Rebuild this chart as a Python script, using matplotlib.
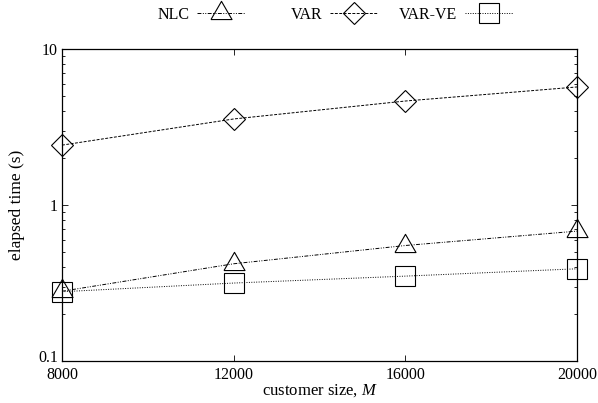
import numpy as np
import matplotlib
matplotlib.use('Agg')
import matplotlib.pyplot as plt
from matplotlib.ticker import FixedLocator, NullFormatter, FixedFormatter
from matplotlib.transforms import ScaledTranslation

plt.rcParams['font.family'] = ['Liberation Serif', 'DejaVu Serif']
plt.rcParams['mathtext.fontset'] = 'custom'
plt.rcParams['mathtext.it'] = 'Liberation Serif:italic'

# data
sizes = [8000, 12000, 16000, 20000]
nlc = [0.28, 0.42, 0.55, 0.68]
var = [2.42, 3.56, 4.64, 5.71]
var_ve = [0.278, 0.316, 0.35, 0.39]

x_ticks = [8000, 12000, 16000, 20000]
y_ticks = [0.1, 1, 10]
y_labels = ['0.1', '1', '10']
names = ['NLC', 'VAR', 'VAR-VE']

# gnuplot style equilateral triangle, centroid on the point
tri = [(-1, -0.577), (1, -0.577), (0, 1.155), (-1, -0.577)]

fig = plt.figure(figsize=(5.98, 4.03), dpi=100)
ax = fig.add_axes([62 / 598, 1 - 361 / 403, (577 - 62) / 598, (361 - 49) / 403])

lw = 0.7
mk = dict(mfc='none', mec='black', mew=0.8, clip_on=False)
l1, = ax.plot(sizes, nlc, color='black', lw=lw, dashes=[4, 1.5, 1, 1.5, 1, 1.5],
              marker=tri, ms=17.5, **mk)
l2, = ax.plot(sizes, var, color='black', lw=lw, dashes=[3, 1.5],
              marker='D', ms=11, **mk)
l3, = ax.plot(sizes, var_ve, color='black', lw=lw, dashes=[1, 1.5],
              marker='s', ms=15, **mk)

ax.set_yscale('log')
ax.set_xlim(8000, 20000)
ax.set_ylim(0.1, 10)
ax.xaxis.set_major_locator(FixedLocator(x_ticks))
ax.set_xticklabels([str(t) for t in x_ticks])
ax.yaxis.set_major_locator(FixedLocator(y_ticks))
ax.yaxis.set_major_formatter(FixedFormatter(y_labels))
ax.yaxis.set_minor_formatter(NullFormatter())

ax.tick_params(which='both', direction='in', top=True, right=True, labelsize=11.5,
               width=0.6)
ax.tick_params(which='major', length=4, pad=3)
ax.tick_params(which='minor', length=2)
ax.tick_params(axis='x', pad=4)
for sp in ax.spines.values():
    sp.set_linewidth(0.9)

# lift "0.1" a little so it sits above "8000" like in the original
fig.canvas.draw()
lab = ax.get_yticklabels()[0]
lab.set_transform(lab.get_transform() + ScaledTranslation(0, 5 / 100, fig.dpi_scale_trans))

ax.set_xlabel('customer size, $M$', fontsize=12, labelpad=0)
ax.set_ylabel('elapsed time (s)', fontsize=12.5, labelpad=9)

# gnuplot key: text right-justified, sample after it
for h, name, xr in zip([l1, l2, l3], names, [245, 378, 513]):
    fig.legend([h], [name], loc='center right', bbox_to_anchor=(xr / 598, 1 - 15 / 403),
               frameon=False, markerfirst=False, fontsize=11.5, handlelength=3.0,
               handletextpad=0.5, borderpad=0, borderaxespad=0)

fig.savefig('out.png', dpi=100)
